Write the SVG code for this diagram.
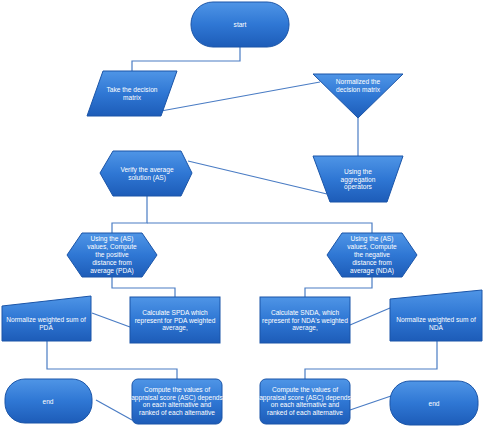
<svg xmlns="http://www.w3.org/2000/svg" width="484" height="428" viewBox="0 0 484 428">
<defs>
<linearGradient id="g" x1="0" y1="0" x2="0" y2="1">
<stop offset="0" stop-color="#4f95e6"/>
<stop offset="0.5" stop-color="#2f77d4"/>
<stop offset="1" stop-color="#1d5cb8"/>
</linearGradient>
</defs>
<style>
.n{fill:url(#g);stroke:#1b55a8;stroke-width:1}
.t{font-family:"Liberation Sans",Arial,sans-serif;font-size:6.6px;fill:#ffffff;text-anchor:middle}
.c{fill:none;stroke:#4a7cc4;stroke-width:1.2}
</style>
<rect width="484" height="428" fill="#ffffff"/>
<g id="connectors">
<polyline class="c" points="240,47 240,61 132,61 132,71"/>
<line class="c" x1="161" y1="111" x2="320" y2="82"/>
<line class="c" x1="358" y1="118" x2="358" y2="156"/>
<line class="c" x1="327" y1="194" x2="188" y2="161"/>
<polyline class="c" points="147,196 147,223 112,223 112,233"/>
<polyline class="c" points="147,223 372,223 372,233"/>
<polyline class="c" points="112,277 112,288 175,288 175,297"/>
<polyline class="c" points="372,277 372,288 305,288 305,297"/>
<line class="c" x1="130" y1="327" x2="92" y2="313"/>
<line class="c" x1="350" y1="325" x2="390" y2="308"/>
<polyline class="c" points="47,341 47,369 177,369 177,379"/>
<polyline class="c" points="437,341 437,369 305,369 305,379"/>
<line class="c" x1="132" y1="420" x2="96" y2="400"/>
<line class="c" x1="350" y1="410" x2="391" y2="396"/>
</g>
<g id="start">
<rect class="n" x="191" y="2" width="98" height="45" rx="22"/>
<text class="t" x="240" y="27">start</text>
</g>
<g id="take">
<polygon class="n" points="103,71 177,71 161,116 87,116"/>
<text class="t" x="132" y="92">Take the decision</text>
<text class="t" x="132" y="100">matrix</text>
</g>
<g id="normalized">
<polygon class="n" points="313,74 403,74 358,118"/>
<text class="t" x="358" y="84">Normalized the</text>
<text class="t" x="358" y="92">decision matrix</text>
</g>
<g id="aggregation">
<polygon class="n" points="313,156 403,156 387,202 330,202"/>
<text class="t" x="358" y="174">Using the</text>
<text class="t" x="358" y="181.5">aggregation</text>
<text class="t" x="358" y="189">operators</text>
</g>
<g id="verify">
<polygon class="n" points="100,173 113,151 181,151 192,173 181,196 113,196"/>
<text class="t" x="147" y="172">Verify the average</text>
<text class="t" x="147" y="180">solution (AS)</text>
</g>
<g id="pda">
<polygon class="n" points="67,255 82,233 142,233 157,255 142,277 82,277"/>
<text class="t" x="112" y="241">Using the (AS)</text>
<text class="t" x="112" y="249">values, Compute</text>
<text class="t" x="112" y="257">the positive</text>
<text class="t" x="112" y="265">distance from</text>
<text class="t" x="112" y="273">average (PDA)</text>
</g>
<g id="nda">
<polygon class="n" points="327,255 342,233 402,233 417,255 402,277 342,277"/>
<text class="t" x="372" y="241">Using the (AS)</text>
<text class="t" x="372" y="249">values, Compute</text>
<text class="t" x="372" y="257">the negative</text>
<text class="t" x="372" y="265">distance from</text>
<text class="t" x="372" y="273">average (NDA)</text>
</g>
<g id="spda">
<rect class="n" x="130" y="297" width="90" height="46"/>
<text class="t" x="175" y="315">Calculate SPDA  which</text>
<text class="t" x="175" y="322.5">represent for PDA weighted</text>
<text class="t" x="175" y="330">average,</text>
</g>
<g id="snda">
<rect class="n" x="260" y="297" width="90" height="46"/>
<text class="t" x="305" y="315">Calculate SNDA, which</text>
<text class="t" x="305" y="322.5">represent for  NDA's weighted</text>
<text class="t" x="305" y="330">average,</text>
</g>
<g id="normpda">
<polygon class="n" points="2,306 91,296 91,341 2,341"/>
<text class="t" x="46" y="322">Normalize weighted sum of</text>
<text class="t" x="46" y="330">PDA</text>
</g>
<g id="normnda">
<polygon class="n" points="390,299 482,290 482,341 390,341"/>
<text class="t" x="436" y="322">Normalize weighted sum of</text>
<text class="t" x="436" y="330">NDA</text>
</g>
<g id="ascl">
<rect class="n" x="132" y="379" width="90" height="45" rx="6"/>
<text class="t" x="177" y="392">Compute the values of</text>
<text class="t" x="177" y="399.5">appraisal score (ASC) depends</text>
<text class="t" x="177" y="407">on each alternative and</text>
<text class="t" x="177" y="414.5">ranked of each alternative</text>
</g>
<g id="ascr">
<rect class="n" x="260" y="379" width="90" height="45" rx="6"/>
<text class="t" x="305" y="392">Compute the values of</text>
<text class="t" x="305" y="399.5">appraisal score (ASC) depends</text>
<text class="t" x="305" y="407">on each alternative and</text>
<text class="t" x="305" y="414.5">ranked of each alternative</text>
</g>
<g id="endl">
<rect class="n" x="5" y="379" width="87" height="44" rx="20"/>
<text class="t" x="48" y="404">end</text>
</g>
<g id="endr">
<rect class="n" x="390" y="381" width="88" height="44" rx="20"/>
<text class="t" x="434" y="406">end</text>
</g>
</svg>
